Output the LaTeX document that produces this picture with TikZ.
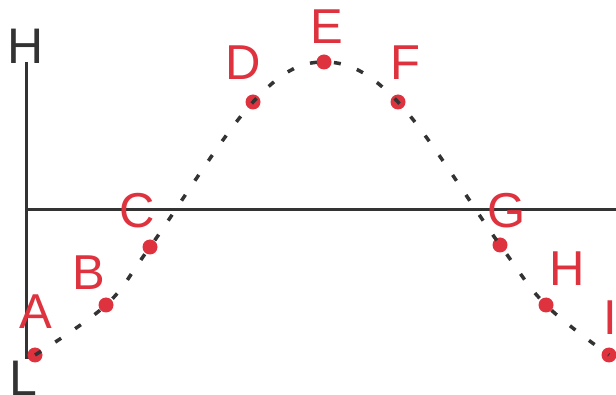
\documentclass[tikz,border=0pt]{standalone}
\usepackage{fontspec}
\setmainfont{Liberation Sans}
\usetikzlibrary{arrows,shapes}
\definecolor{ptred}{RGB}{222,50,62}
\definecolor{axgray}{RGB}{51,51,51}
\tikzstyle{pt}=[circle,fill=ptred,inner sep=0pt,minimum size=15pt]
\tikzstyle{lbl}=[text=ptred,inner sep=0pt,font=\fontsize{49}{49}\selectfont]
\tikzstyle{axlbl}=[text=axgray,inner sep=0pt,font=\fontsize{50}{50}\selectfont]
\tikzstyle{axis}=[draw=axgray,line width=3pt]
\tikzstyle{wave}=[draw=axgray,line width=3.5pt,dash pattern=on 7pt off 17pt]

\begin{document}
\begin{tikzpicture}[x=1pt,y=-1pt]
\useasboundingbox (0,0) rectangle (616,395);
\coordinate (top) at (26,62);
\coordinate (bot) at (26,358);
\coordinate (org) at (26,210);
\coordinate (xend) at (616,210);
\node[axlbl] (hi) at (26,46) {H};
\node[axlbl] (lo) at (23,378) {L};
\draw[axis](top)--(bot)--++(8,0);\draw[axis](org)--(xend);
\node[pt] (A) at (35,355) {};
\node[pt] (B) at (106,305) {};
\node[pt] (C) at (150,247) {};
\node[pt] (D) at (253,102) {};
\node[pt] (E) at (324,62) {};
\node[pt] (F) at (398,102) {};
\node[pt] (G) at (500,245) {};
\node[pt] (H) at (546,305) {};
\node[pt] (I) at (609,355) {};
\draw[wave] plot[smooth,tension=0.6] coordinates {(A.center) (B.center) (C.center) (D.center) (E.center) (F.center) (G.center) (H.center) (I.center)};
\node[lbl] (la) at (36,312) {A};
\node[lbl] (lb) at (89,273) {B};
\node[lbl] (lc) at (137,211) {C};
\node[lbl] (ld) at (243,63) {D};
\node[lbl] (le) at (327,27) {E};
\node[lbl] (lf) at (405,63) {F};
\node[lbl] (lg) at (507,211) {G};
\node[lbl] (lh) at (567,269) {H};
\node[lbl] (li) at (610,318) {I};
\end{tikzpicture}
\end{document}
